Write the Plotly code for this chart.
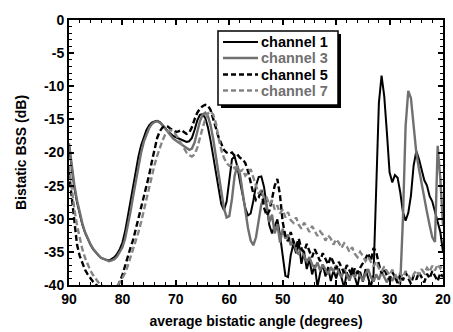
import plotly.graph_objects as go

# Average bistatic angle grid (degrees), 90 down to 20 in 0.5 degree steps
ANGLE = [90 - 0.5 * i for i in range(141)]

# Bistatic backscattering strength (dB) per receiver channel, one row per 5 degrees
CH1 = [
    -19.0, -22.5, -25.3, -27.5, -29.4, -30.9, -32.1, -33.1, -33.9, -34.6,
    -35.1, -35.5, -35.9, -36.1, -36.2, -36.3, -36.1, -35.8, -35.3, -34.6,
    -33.6, -31.9, -29.7, -27.3, -24.9, -22.6, -20.6, -18.9, -17.6, -16.6,
    -15.9, -15.5, -15.3, -15.2, -15.4, -15.8, -16.3, -16.8, -17.2, -17.5,
    -17.7, -17.9, -18.1, -18.3, -18.4, -18.3, -17.8, -16.6, -15.2, -14.3,
    -14.2, -14.8, -16.2, -18.2, -20.7, -23.3, -25.8, -27.8, -28.7, -27.4,
    -24.2, -21.0, -20.6, -22.1, -24.4, -26.7, -28.4, -29.5, -29.2, -27.3,
    -25.0, -23.7, -23.6, -25.2, -28.1, -31.0, -32.2, -31.0, -30.1, -32.5,
    -36.0, -38.6, -38.8, -35.5, -33.8, -35.2, -33.6, -36.8, -35.0, -37.6,
    -36.1, -38.4, -37.0, -40.3, -38.2, -36.9, -38.7, -37.3, -39.4, -37.8,
    -39.0, -37.5, -38.9, -40.4, -38.1, -39.3, -37.4, -38.8, -40.2, -38.0,
    -39.5, -37.6, -39.1, -40.3, -38.4, -27.0, -12.5, -8.4, -11.5, -17.0,
    -23.0, -24.5, -23.4, -23.8, -26.0, -29.0, -30.3, -29.1, -26.5, -22.0,
    -19.8, -21.0, -22.8, -24.2, -25.0, -26.6, -27.4, -29.0, -30.5, -32.0,
    -35.0,
]

CH3 = [
    -18.6, -22.0, -24.9, -27.2, -29.1, -30.7, -32.0, -33.0, -33.8, -34.5,
    -35.1, -35.5, -35.9, -36.1, -36.3, -36.4, -36.3, -36.1, -35.7, -35.1,
    -34.3, -33.0, -31.2, -29.0, -26.6, -24.2, -22.0, -20.0, -18.4, -17.2,
    -16.3, -15.7, -15.4, -15.3, -15.5, -15.9, -16.4, -17.0, -17.5, -17.9,
    -18.2, -18.5, -18.8, -19.1, -19.4, -19.6, -19.4, -18.5, -16.9, -15.3,
    -14.3, -14.0, -14.5, -15.9, -18.0, -20.6, -23.4, -26.1, -28.4, -29.8,
    -29.6, -27.0, -23.5, -22.0, -23.3, -26.0, -28.9, -31.4, -33.3, -34.0,
    -32.8, -30.2, -27.8, -26.9, -28.0, -30.5, -29.4, -32.2, -30.8, -33.6,
    -31.5, -33.0, -32.4, -34.0, -33.2, -34.8, -35.4, -34.3, -35.6, -36.5,
    -35.8, -36.9, -37.5, -36.6, -37.8, -36.9, -37.6, -38.4, -37.3, -38.0,
    -37.0, -38.2, -38.8, -37.6, -38.5, -39.3, -38.1, -38.9, -37.8, -38.6,
    -39.4, -38.3, -37.6, -38.8, -39.5, -38.4, -39.2, -38.0, -38.9, -39.6,
    -38.7, -39.4, -38.5, -39.5, -39.8, -30.0, -16.0, -10.7, -11.8, -15.5,
    -20.0, -22.5, -24.8, -27.0, -29.0, -31.0, -32.8, -33.5, -19.0, -24.0,
    -31.0,
]

CH5 = [
    -23.0, -27.0, -31.0, -33.9, -35.6, -36.8, -37.7, -38.4, -39.0, -39.5,
    -39.9, -40.3, -40.6, -40.8, -41.0, -41.1, -41.1, -40.9, -40.5, -39.6,
    -38.5, -37.1, -35.6, -34.4, -33.2, -31.6, -30.0, -28.3, -26.8, -25.2,
    -23.4, -21.4, -19.3, -17.8, -16.8, -16.2, -16.0, -16.1, -16.4, -16.7,
    -16.9, -16.8, -16.6, -16.9, -17.2, -17.0, -16.2, -15.0, -14.0, -13.4,
    -13.0, -12.8, -12.9, -13.6, -14.8, -16.3, -17.7, -18.8, -19.6, -20.0,
    -20.2, -20.0, -20.5, -20.3, -20.8, -21.0, -21.6, -22.8, -24.5, -26.2,
    -27.2, -26.8, -25.6, -28.3, -29.5, -28.8, -27.0, -25.0, -24.0, -26.5,
    -30.5, -32.6, -33.4, -32.0, -33.5, -34.2, -33.0, -34.6, -35.0, -33.8,
    -34.9, -35.8, -34.6, -35.5, -36.4, -35.2, -36.0, -36.9, -35.7, -36.8,
    -37.6, -36.5, -37.4, -38.2, -37.0, -37.9, -38.6, -37.5, -38.3, -37.4,
    -36.8, -36.0, -35.2, -36.4, -34.4, -35.0, -36.9, -38.2, -37.5, -38.6,
    -39.2, -38.0, -38.8, -39.7, -38.4, -39.3, -38.1, -38.9, -39.8, -38.6,
    -39.2, -38.1, -38.9, -39.6, -38.3, -39.0, -37.9, -38.7, -39.4, -38.2,
    -38.8,
]

CH7 = [
    -22.0, -25.5, -28.5, -31.0, -33.0, -34.6, -35.9, -36.9, -37.8, -38.5,
    -39.1, -39.6, -40.0, -40.3, -40.5, -40.6, -40.6, -40.4, -40.1, -39.6,
    -38.9, -38.2, -37.1, -35.9, -34.6, -33.3, -32.0, -30.5, -28.7, -26.8,
    -25.0, -23.4, -21.9, -20.5, -19.3, -18.2, -17.3, -16.8, -16.6, -16.8,
    -17.3, -18.0, -18.8, -19.5, -20.0, -20.4, -20.6, -20.3, -19.3, -17.8,
    -16.2, -14.9, -14.1, -13.8, -14.3, -15.6, -17.8, -19.6, -20.8, -21.6,
    -22.0, -21.8, -22.4, -22.1, -22.9, -22.6, -23.5, -23.1, -22.5, -23.6,
    -25.0, -26.2, -25.6, -27.0, -26.8, -27.9, -27.2, -28.6, -28.0, -29.2,
    -28.6, -29.8, -29.0, -30.2, -30.6, -29.8, -30.9, -31.5, -30.6, -31.2,
    -32.0, -31.1, -31.8, -32.6, -31.9, -32.4, -33.3, -32.5, -33.0, -33.9,
    -33.1, -33.6, -34.4, -33.7, -34.2, -35.0, -34.3, -35.3, -35.8, -35.0,
    -35.6, -36.4, -35.8, -36.6, -37.2, -36.5, -37.5, -38.0, -37.2, -37.9,
    -38.5, -37.7, -38.3, -39.0, -38.2, -38.8, -37.9, -38.6, -39.2, -38.4,
    -37.8, -38.5, -37.6, -38.2, -37.4, -38.0, -37.1, -37.8, -36.9, -37.5,
    -36.8,
]

CHANNEL_NAMES = ["channel 1", "channel 3", "channel 5", "channel 7"]
X_TICKS = [90, 80, 70, 60, 50, 40, 30, 20]
Y_TICKS = [0, -5, -10, -15, -20, -25, -30, -35, -40]
Y_TICK_TEXT = ["0", "-5", "-10", "-15", "-20", "-25", "-30", "-35", "-40"]

BLACK = "#000000"
GRAY = "#707070"
GRAY_DASH = "#858585"

styles = [
    dict(color=BLACK, width=2.0, dash="solid"),
    dict(color=GRAY, width=2.4, dash="solid"),
    dict(color=BLACK, width=2.4, dash="6px,3px"),
    dict(color=GRAY_DASH, width=2.4, dash="6px,3px"),
]
label_colors = [BLACK, GRAY, BLACK, GRAY]

fig = go.Figure()
for name, vals, style in zip(CHANNEL_NAMES, [CH1, CH3, CH5, CH7], styles):
    fig.add_trace(go.Scatter(x=ANGLE, y=vals, mode="lines", line=style,
                             name=name, showlegend=False))

FONT = "Liberation Sans, Arial, sans-serif"
W, H = 453, 332
M = dict(l=69, r=10, t=20, b=47)
PW, PH = W - M["l"] - M["r"], H - M["t"] - M["b"]


def px_x(p):
    """Pixel column -> paper x."""
    return (p - M["l"]) / PW


def px_y(p):
    """Pixel row -> paper y."""
    return 1 - (p - M["t"]) / PH


axis_common = dict(
    showline=True, linecolor="black", linewidth=2, mirror="allticks",
    ticks="inside", ticklen=5, tickwidth=1.5, tickcolor="black",
    showgrid=False, zeroline=False, automargin=False,
    tickfont=dict(family=FONT, size=14, color="black", weight="bold"),
)

fig.update_xaxes(
    range=[90, 20], tickvals=X_TICKS,
    minor=dict(dtick=2, ticks="inside", ticklen=3, tickwidth=1.2, tickcolor="black"),
    title=dict(text="average bistatic angle (degrees)", standoff=10,
               font=dict(family=FONT, size=14, color="black", weight="bold")),
    **axis_common,
)
fig.update_yaxes(
    range=[-40, 0], tickvals=Y_TICKS, ticktext=Y_TICK_TEXT,
    minor=dict(dtick=1, ticks="inside", ticklen=3, tickwidth=1.2, tickcolor="black"),
    title=dict(text="Bistatic BSS (dB)", standoff=14,
               font=dict(family=FONT, size=14, color="black", weight="bold")),
    **axis_common,
)

# Legend box with drop shadow, line samples and coloured labels
box_l, box_r, box_t, box_b = 218, 338, 31, 105
shapes = [
    dict(type="rect", xref="paper", yref="paper",
         x0=px_x(box_l + 3), x1=px_x(box_r + 3), y0=px_y(box_b + 3), y1=px_y(box_t + 3),
         fillcolor="black", line=dict(width=0), layer="above"),
    dict(type="rect", xref="paper", yref="paper",
         x0=px_x(box_l), x1=px_x(box_r), y0=px_y(box_b), y1=px_y(box_t),
         fillcolor="white", line=dict(color="black", width=1.5), layer="above"),
]
annotations = []
row_y = [42, 58, 74.5, 90.5]
for name, style, lc, ry in zip(CHANNEL_NAMES, styles, label_colors, row_y):
    shapes.append(dict(type="line", xref="paper", yref="paper",
                       x0=px_x(223), x1=px_x(258), y0=px_y(ry), y1=px_y(ry),
                       line=dict(color=style["color"], width=style["width"],
                                 dash="solid" if style["dash"] == "solid" else "5px,3px"),
                       layer="above"))
    annotations.append(dict(text=name, xref="paper", yref="paper",
                            x=px_x(259), y=px_y(ry), xanchor="left", yanchor="middle",
                            showarrow=False,
                            font=dict(family=FONT, size=14.5, color=lc, weight="bold")))

fig.update_layout(
    width=W, height=H, margin=M,
    paper_bgcolor="white", plot_bgcolor="white",
    showlegend=False, shapes=shapes, annotations=annotations,
)

fig.write_html("out.html")
